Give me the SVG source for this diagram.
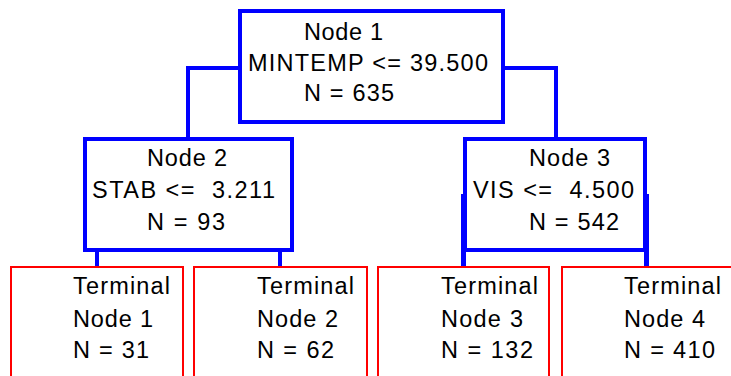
<svg xmlns="http://www.w3.org/2000/svg" width="731" height="376" viewBox="0 0 731 376">
<style>
.split{fill:#fff;stroke:#0000ff;stroke-width:4}
.term{fill:#fff;stroke:#ff0000;stroke-width:2}
.conn{fill:none;stroke:#0000ff;stroke-width:4}
text{font-family:"Liberation Sans",Arial,sans-serif;font-size:23.5px;fill:#000}
</style>
<rect width="731" height="376" fill="#fff"/>
<g id="connectors">
<polyline class="conn" points="240,68 188,68 188,140"/>
<polyline class="conn" points="503,68 556,68 556,140"/>
<line class="conn" x1="97" y1="250" x2="97" y2="267"/>
<line class="conn" x1="280" y1="250" x2="280" y2="267"/>
<line class="conn" x1="463.5" y1="194" x2="463.5" y2="267" style="stroke-width:5"/>
<line class="conn" x1="646.5" y1="194" x2="646.5" y2="267" style="stroke-width:5"/>
</g>
<g id="node1">
<rect class="split" x="240" y="11" width="263" height="111"/>
<text x="304" y="40" textLength="79" lengthAdjust="spacing">Node 1</text>
<text x="248" y="71" textLength="240" lengthAdjust="spacing">MINTEMP &lt;= 39.500</text>
<text x="304" y="101" textLength="90" lengthAdjust="spacing">N = 635</text>
</g>
<g id="node2">
<rect class="split" x="85" y="139" width="207" height="111"/>
<text x="147" y="166" textLength="80" lengthAdjust="spacing">Node 2</text>
<text x="92" y="198" textLength="183" lengthAdjust="spacing" xml:space="preserve">STAB &lt;=  3.211</text>
<text x="147" y="230" textLength="78" lengthAdjust="spacing">N = 93</text>
</g>
<g id="node3">
<rect class="split" x="465" y="139" width="180" height="111"/>
<text x="529" y="166" textLength="81" lengthAdjust="spacing">Node 3</text>
<text x="473" y="198" textLength="161" lengthAdjust="spacing" xml:space="preserve">VIS &lt;=  4.500</text>
<text x="529" y="230" textLength="90" lengthAdjust="spacing">N = 542</text>
</g>
<g id="terminal1">
<rect class="term" x="11" y="267" width="172" height="120"/>
<text x="73" y="294" textLength="97" lengthAdjust="spacing">Terminal</text>
<text x="73" y="327" textLength="80" lengthAdjust="spacing">Node 1</text>
<text x="73" y="358" textLength="76" lengthAdjust="spacing">N = 31</text>
</g>
<g id="terminal2">
<rect class="term" x="194" y="267" width="173" height="120"/>
<text x="257" y="294" textLength="97" lengthAdjust="spacing">Terminal</text>
<text x="257" y="327" textLength="81" lengthAdjust="spacing">Node 2</text>
<text x="257" y="358" textLength="77" lengthAdjust="spacing">N = 62</text>
</g>
<g id="terminal3">
<rect class="term" x="378" y="267" width="171" height="120"/>
<text x="441" y="294" textLength="97" lengthAdjust="spacing">Terminal</text>
<text x="441" y="327" textLength="82" lengthAdjust="spacing">Node 3</text>
<text x="441" y="358" textLength="92" lengthAdjust="spacing">N = 132</text>
</g>
<g id="terminal4">
<rect class="term" x="562" y="267" width="180" height="120"/>
<text x="624" y="294" textLength="97" lengthAdjust="spacing">Terminal</text>
<text x="624" y="327" textLength="81" lengthAdjust="spacing">Node 4</text>
<text x="624" y="358" textLength="91" lengthAdjust="spacing">N = 410</text>
</g>
</svg>
